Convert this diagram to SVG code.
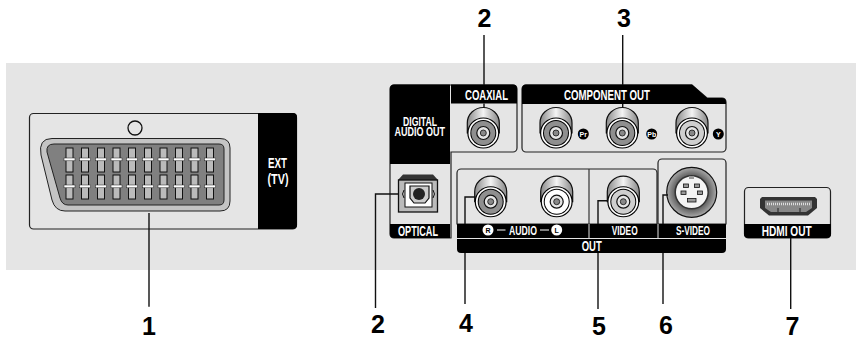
<svg xmlns="http://www.w3.org/2000/svg" xmlns:xlink="http://www.w3.org/1999/xlink" width="856" height="337" viewBox="0 0 856 337">
<style>
.p{fill:#e5e5e5;stroke:#222;stroke-width:1.2}
.k{fill:#000}
.t{font-family:"Liberation Sans",Arial,sans-serif;font-weight:700;fill:#fff;text-anchor:start}
.s{font-size:14px}
.m{font-size:12px}
.n{font-family:"Liberation Sans",Arial,sans-serif;font-weight:700;font-size:25px;fill:#000;text-anchor:middle}
.l{fill:none;stroke:#111;stroke-width:1.4}
.c{font-family:"Liberation Sans",Arial,sans-serif;font-weight:700;font-size:7px;text-anchor:middle}
.pin{fill:#bbb;stroke:#111;stroke-width:1}
.bar{fill:#fff;stroke:#222;stroke-width:.5}
</style>
<defs>
<linearGradient id="bar" x1="0" y1="0" x2="1" y2="0"><stop offset="0" stop-color="#888"/><stop offset=".5" stop-color="#f4f4f4"/><stop offset="1" stop-color="#888"/></linearGradient>
<radialGradient id="sv"><stop offset=".7" stop-color="#666"/><stop offset="1" stop-color="#aaa"/></radialGradient>
<g id="barrel"><path d="M-16 0V-10A16 15.5 0 0 1 16 -10V0Z" fill="url(#bar)" stroke="#111" stroke-width="1.2"/><ellipse rx="16" ry="15.500" fill="#000"/><ellipse rx="14.800" ry="14.500" fill="#fff"/><ellipse rx="13" ry="13" fill="#000"/></g>
<g id="jack"><use xlink:href="#barrel"/><circle r="12" fill="#8f8f8f"/><circle r="6.500" fill="#e5e5e5" stroke="#111" stroke-width="1.2"/><circle r="3" fill="#888" stroke="#111" stroke-width=".8"/></g>
<g id="jackw"><use xlink:href="#barrel"/><circle r="12" fill="#fff"/><circle r="6.500" fill="#e5e5e5" stroke="#111" stroke-width="1.2"/><circle r="3" fill="#888" stroke="#111" stroke-width=".8"/></g>
<g id="jackg"><use xlink:href="#barrel"/><circle r="12" fill="#cfcfcf"/><circle r="6.500" fill="#e5e5e5" stroke="#111" stroke-width="1.2"/><circle r="3" fill="#888" stroke="#111" stroke-width=".8"/></g>
<g id="pin"><rect x="-3.500" y="0" width="7" height="24" class="pin"/><rect x="-5.500" y="10" width="11" height="2.800" class="bar"/></g>
<g id="pincol"><use xlink:href="#pin" y="148"/><use xlink:href="#pin" y="175"/></g>
</defs>
<rect x="6" y="63" width="850" height="207" fill="#e5e5e5"/>
<g id="scart">
<rect x="29.500" y="113.500" width="267" height="115.500" rx="4" class="p"/>
<path d="M258 113H293a4 4 0 0 1 4 4V225a4 4 0 0 1-4 4H258Z" class="k"/>
<circle cx="135" cy="128" r="7" fill="#e5e5e5" stroke="#111" stroke-width="1.3"/>
<path d="M52 138.500H220Q230 138.500 230 148V201Q230 211 220 211H65Q55 211 52 200L41 155Q38 138.500 52 138.500Z" fill="#c4c4c4" stroke="#222" stroke-width="1"/>
<path d="M54 144H219Q224 144 224 149V200Q224 205 219 205H68Q62 205 60 198L47 152Q46 144 54 144Z" fill="#808080" stroke="#222" stroke-width="1"/>
<use xlink:href="#pincol" x="69.500"/><use xlink:href="#pincol" x="85"/><use xlink:href="#pincol" x="101"/><use xlink:href="#pincol" x="116.500"/><use xlink:href="#pincol" x="132"/><use xlink:href="#pincol" x="148"/><use xlink:href="#pincol" x="163.500"/><use xlink:href="#pincol" x="179"/><use xlink:href="#pincol" x="194.500"/><use xlink:href="#pincol" x="210"/>
<text class="t s" x="268" y="168" textLength="19" lengthAdjust="spacingAndGlyphs">EXT</text>
<text class="t s" x="267.500" y="184" textLength="21" lengthAdjust="spacingAndGlyphs">(TV)</text>
</g>
<g id="digital-audio">
<path d="M394 85H513a4 4 0 0 1 4 4V148a4 4 0 0 1-4 4H451V238H394a4 4 0 0 1-4-4V89a4 4 0 0 1 4-4Z" class="p"/>
<path d="M394 84.500H450V164H390V89a4 4 0 0 1 4-4.500Z" class="k"/>
<path d="M451 84.500H513a4 4 0 0 1 4 4V103.500H451Z" class="k"/>
<path d="M390 224H450V238H394a4 4 0 0 1-4-4Z" class="k"/>
<text class="t m" x="403" y="125.500" textLength="34" lengthAdjust="spacingAndGlyphs">DIGITAL</text>
<text class="t m" x="394.500" y="135.500" textLength="50.500" lengthAdjust="spacingAndGlyphs">AUDIO OUT</text>
<text class="t s" x="465" y="100" textLength="43" lengthAdjust="spacingAndGlyphs">COAXIAL</text>
<text class="t s" x="398" y="235.500" textLength="40" lengthAdjust="spacingAndGlyphs">OPTICAL</text>
<use xlink:href="#jack" x="483.300" y="133"/>
<g id="optical-port">
<path d="M398 180L403 174.500H433L438 180Z" fill="#333"/>
<rect x="398.500" y="180" width="39" height="32" fill="#bbb" stroke="#111" stroke-width="1.3"/>
<rect x="405" y="183" width="27" height="24" fill="#fff" stroke="#111" stroke-width="1"/>
<path d="M410 186H429V198L425 203H414L410 198Z" fill="#ccc" stroke="#111" stroke-width="1.2"/>
<circle cx="419" cy="194" r="6" fill="#222"/>
<path d="M404 190Q401 194 404 198M433 190Q436 194 433 198" fill="none" stroke="#111" stroke-width="1"/>
</g>
</g>
<g id="component">
<path d="M526 85H692L707 98H722a4 4 0 0 1 4 4V148a4 4 0 0 1-4 4H526a4 4 0 0 1-4-4V89a4 4 0 0 1 4-4Z" class="p"/>
<path d="M526 84.500H692L707 98H722a4 4 0 0 1 4 4V104H522V89a4 4 0 0 1 4-4.500Z" class="k"/>
<text class="t s" x="564" y="100" textLength="86" lengthAdjust="spacingAndGlyphs">COMPONENT OUT</text>
<use xlink:href="#jack" x="556" y="133"/><use xlink:href="#jack" x="622.300" y="133"/><use xlink:href="#jackg" x="692" y="133"/>
<circle cx="583.300" cy="134" r="5.500" class="k"/><text class="c" x="583.300" y="136.500" fill="#fff">Pr</text>
<circle cx="651.700" cy="134" r="5.500" class="k"/><text class="c" x="651.700" y="136.500" fill="#fff">Pb</text>
<circle cx="718.300" cy="134" r="5.500" class="k"/><text class="c" x="718.300" y="136.500" fill="#fff">Y</text>
</g>
<g id="out">
<path d="M461 169H653a4 4 0 0 1 4 4V224H457V173a4 4 0 0 1 4-4Z" class="p"/>
<line x1="589" y1="169" x2="589" y2="238" stroke="#333" stroke-width="1.2"/>
<path d="M662 159H722a4 4 0 0 1 4 4V224H658V163a4 4 0 0 1 4-4Z" class="p"/>
<path d="M457 224H726V249a4 4 0 0 1-4 4H461a4 4 0 0 1-4-4Z" class="k"/>
<path d="M457 238.500H726M589 224V238M658 224V238" fill="none" stroke="#e5e5e5" stroke-width="1"/>
<use xlink:href="#jack" x="490.700" y="201.700"/><use xlink:href="#jackw" x="556.700" y="201.700"/><use xlink:href="#jackg" x="623.300" y="201.700"/>
<circle cx="488" cy="230" r="5.500" fill="#fff"/><text class="c" x="488" y="232.500" fill="#000">R</text>
<circle cx="556.700" cy="230" r="5.500" fill="#fff"/><text class="c" x="556.700" y="232.500" fill="#000">L</text>
<path d="M497 230H505.500M540 230H549" stroke="#fff" stroke-width="1"/>
<text class="t m" x="509" y="234.500" textLength="28" lengthAdjust="spacingAndGlyphs">AUDIO</text>
<text class="t m" x="611.700" y="234.500" textLength="26" lengthAdjust="spacingAndGlyphs">VIDEO</text>
<text class="t m" x="676" y="234.500" textLength="34" lengthAdjust="spacingAndGlyphs">S-VIDEO</text>
<text class="t s" x="581.700" y="250.500" textLength="20" lengthAdjust="spacingAndGlyphs">OUT</text>
<g id="svideo-port">
<circle cx="691.700" cy="192.300" r="25" fill="url(#sv)" stroke="#111" stroke-width="1.2"/>
<circle cx="691.700" cy="192.300" r="16.500" fill="#f4f4f4" stroke="#333" stroke-width="1.5"/>
<path d="M689 176h5v3h-5Z" fill="#999"/>
<rect x="683.500" y="184" width="5" height="3.500" fill="#999" stroke="#111" stroke-width=".8"/>
<rect x="694.500" y="184" width="5" height="3.500" fill="#999" stroke="#111" stroke-width=".8"/>
<rect x="681" y="191" width="5" height="3.500" fill="#999" stroke="#111" stroke-width=".8"/>
<rect x="697.500" y="191" width="5" height="3.500" fill="#999" stroke="#111" stroke-width=".8"/>
<rect x="687.500" y="198.500" width="8.500" height="3.500" fill="#999" stroke="#111" stroke-width=".8"/>
</g>
</g>
<g id="hdmi">
<rect x="744.500" y="187.500" width="86" height="50.500" rx="4" class="p"/>
<path d="M744 224H831V234a4 4 0 0 1-4 4H748a4 4 0 0 1-4-4Z" class="k"/>
<text class="t s" x="761.700" y="235.500" textLength="50" lengthAdjust="spacingAndGlyphs">HDMI OUT</text>
<path d="M762 197H815L817 199V208L808 215.500H769L760 208V199Z" fill="#333"/>
<path d="M765 200.500H812V208L806 212H771L765 208Z" fill="#888"/>
<path d="M767 204H810" stroke="#ddd" stroke-width="2.500" stroke-dasharray="1 1"/>
<path d="M778 208V212M800 208V212" stroke="#222" stroke-width="1"/>
</g>
<g id="connectors">
<path class="l" d="M484 35V85M484 103.500V108"/>
<path class="l" d="M622.700 35V85M622.700 104V108"/>
<path class="l" d="M149 213V306.700"/>
<path class="l" d="M375.500 308V194H398.500"/>
<path class="l" d="M465 224V197H475.500"/>
<path class="l" d="M465 253V304"/>
<path class="l" d="M598 224V200.700H608"/>
<path class="l" d="M598 253V309"/>
<path class="l" d="M663 224V195H668"/>
<path class="l" d="M663 253V304"/>
<path class="l" d="M790.700 238V309"/>
</g>
<g id="numbers">
<text class="n" x="149" y="335">1</text>
<text class="n" x="378" y="333">2</text>
<text class="n" x="484.500" y="27">2</text>
<text class="n" x="624" y="27">3</text>
<text class="n" x="466" y="332">4</text>
<text class="n" x="599" y="335">5</text>
<text class="n" x="666" y="334">6</text>
<text class="n" x="792.500" y="335">7</text>
</g>
</svg>
